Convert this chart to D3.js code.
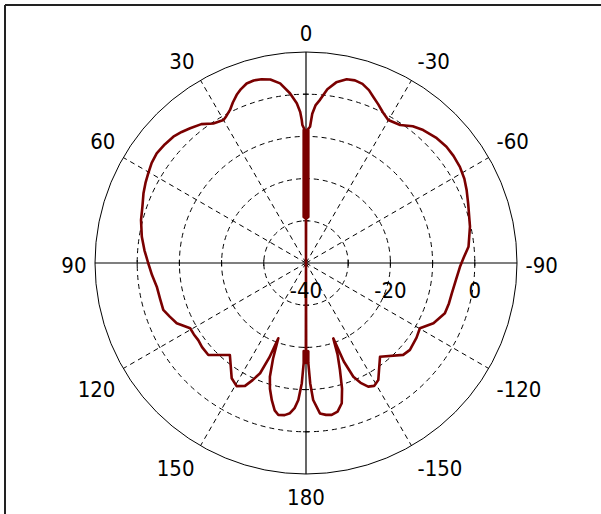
<!DOCTYPE html>
<html>
<head>
<meta charset="utf-8">
<script src="https://cdn.jsdelivr.net/npm/d3@7"></script>
<style>
    html, body { margin: 0; padding: 0; background: #fff; }
    svg { display: block; }
    text { font-family: "DejaVu Sans Condensed", "DejaVu Sans", sans-serif; fill: #000; }
</style>
</head>
<body>
<svg id="polarChart"></svg>
<script>
// angulos em graus (positivo = lado esquerdo) e ganho em dB
const angulosEsq = [0, 0.1, 2.9, 1.0, 0.25, 0.5, 1.5, 1.7, 2.2, 3.3, 5.4, 8.2, 11, 13.6,
    16, 18.3, 20.5, 22.4, 24.5, 26.4, 28.5, 30, 33.6, 37, 40.7, 43.5, 46.4, 50, 53.7, 57, 60.4, 63.5, 66.8,
    71, 75.4, 80.9, 85.5, 90, 94.5, 99, 104, 108.2, 111.5, 115, 119.4, 122.5, 125.6, 129, 133.3, 140.4,
    147.2, 150.6, 153.6, 155.5, 157.4, 158.8, 159.8, 161, 162.4, 164, 166, 168, 169.7, 172, 173.9, 175.5,
    176.8, 178, 178.68, 178.5, 179.5, 179.9, 180];
const ganhoEsq = [-40, -29.5, -29.1, -8.5, -29.1, -8.5, -7.3, -6.1, -4.2, -2.1, 0.4, 3.0, 4.3, 4.8,
    5.0, 4.8, 4.0, 3.1, 1.8, 0.5, -0.4, -0.9, -0.3, 1.2, 2.1, 2.8, 3.4, 3.7, 3.9, 3.6, 3.0, 2.5, 1.9,
    1.0, 0.4, -0.6, -1.6, -2.6, -3.4, -4.2, -4.4, -4.4, -5.3, -6.2, -8.5, -8.5, -8.6, -8.3, -8.2, -11.7,
    -7.5, -6.5, -7.5, -9.5, -11.7, -16, -21, -16, -11.7, -9, -6.5, -4.3, -3.4, -3.6, -4.2, -5.5,
    -7.5, -11.5, -16.3, -19.1, -16.3, -19.1, -40];

const angulosDir = [-180, -179.9, -179.5, -178.5, -178.68, -178, -177, -174.7, -172.5, -170.4, -168,
    -165.7, -164, -162.4, -161, -160.1, -159, -157.4, -155.5, -153.3, -151, -148.3, -141.7, -133.4, -129.9,
    -124, -119.8, -115.3, -109.9, -105.8, -101.8, -96, -91.4, -88, -84.3, -77.5, -70, -65.6, -62, -58, -54,
    -50.4, -46, -41.4, -38, -34.3, -29.9, -27, -24.5, -22, -20, -17.5, -15, -12.5, -9.5, -7, -4.9, -3.5,
    -2.4, -1.7, -0.5, -0.25, -1.0, -2.9, -0.1, 0];
const ganhoDir = [-40, -19.1, -16.3, -19.1, -16.3, -11.5, -7.5, -4.2, -3.7, -3.5, -4.0,
    -5.7, -9.0, -13.4, -17, -21, -15, -10.8, -8.8, -7.2, -6.7, -7.4, -11.7, -8.3, -7.9,
    -8.4, -8.9, -6.6, -5.0, -4.8, -4.7, -4.2, -3.5, -2.6, -1.3, -0.2, 0.9, 1.8, 2.5, 3.0, 3.2,
    3.2, 2.8, 2.0, 1.1, -0.4, -0.9, 0.1, 1.3, 2.5, 3.6, 4.5, 4.8, 4.6, 3.4, 1.5, -1.2, -2.5,
    -4.6, -7.7, -8.5, -29.1, -8.5, -29.1, -29.5, -40];

const angulosLabels = [0, 30, 60, 90, 120, 150, 180, -150, -120, -90, -60, -30];
const aneis = [-30, -20, -10, 0];
const labelsRaio = [-40, -20, 0];

const largura = 601, altura = 514;
const cx = 306, cy = 263;
const raioMax = 211;

const svg = d3.select('#polarChart').attr('width', largura).attr('height', altura);

// moldura (só esquerda e topo)
svg.append('line').attr('x1', 5).attr('y1', 5).attr('x2', largura).attr('y2', 5)
    .attr('stroke', '#222').attr('stroke-width', 2);
svg.append('line').attr('x1', 5).attr('y1', 5).attr('x2', 5).attr('y2', altura)
    .attr('stroke', '#222').attr('stroke-width', 2);

const r = d3.scaleLinear().domain([-40, 10]).range([0, raioMax]);
const g = svg.append('g').attr('transform', `translate(${cx},${cy})`);

// converte angulo (graus, anti-horario a partir do topo) em x,y
const px = (ang, raio) => -raio * Math.sin(ang * Math.PI / 180);
const py = (ang, raio) => -raio * Math.cos(ang * Math.PI / 180);

// circulos tracejados
g.selectAll('circle.anel')
    .data(aneis)
    .enter()
    .append('circle')
    .attr('class', 'anel')
    .attr('r', d => r(d))
    .attr('fill', 'none')
    .attr('stroke', '#000')
    .attr('stroke-width', 1)
    .attr('stroke-dasharray', '5,4');

// raios tracejados a cada 30 graus
const raiosTracejados = d3.range(0, 360, 30).filter(a => a % 90 !== 0);
g.selectAll('line.raio')
    .data(raiosTracejados)
    .enter()
    .append('line')
    .attr('x1', 0).attr('y1', 0)
    .attr('x2', d => px(d, raioMax))
    .attr('y2', d => py(d, raioMax))
    .attr('stroke', '#000')
    .attr('stroke-width', 1)
    .attr('stroke-dasharray', '5,4');

// circulo exterior
g.append('circle').attr('r', r(10)).attr('fill', 'none').attr('stroke', '#000').attr('stroke-width', 1);

// eixos
g.append('line').attr('x1', -raioMax).attr('y1', 0).attr('x2', raioMax).attr('y2', 0)
    .attr('stroke', '#000').attr('stroke-width', 1.2);
g.append('line').attr('x1', 0).attr('y1', -raioMax).attr('x2', 0).attr('y2', raioMax)
    .attr('stroke', '#000').attr('stroke-width', 1.2);

// marcas nos eixos
[0, 90, 180, 270].forEach(a => {
    aneis.forEach(v => {
        const x = px(a, r(v)), y = py(a, r(v));
        const tx = Math.cos(a * Math.PI / 180) * 3, ty = -Math.sin(a * Math.PI / 180) * 3;
        g.append('line')
            .attr('x1', x - tx).attr('y1', y - ty)
            .attr('x2', x + tx).attr('y2', y + ty)
            .attr('stroke', '#000').attr('stroke-width', 1);
    });
});

// curva do diagrama
const pontos = angulosEsq.map((a, i) => [a, ganhoEsq[i]])
    .concat(angulosDir.map((a, i) => [360 + a, ganhoDir[i]]));

const linha = d3.lineRadial()
    .angle(d => -d[0] * Math.PI / 180)
    .radius(d => r(Math.max(d[1], -40)));

g.append('path')
    .datum(pontos)
    .attr('d', linha)
    .attr('fill', 'none')
    .attr('stroke', '#7a0000')
    .attr('stroke-width', 2.6)
    .attr('stroke-linejoin', 'round');

// labels de angulo: encostados ao ponto do raio 216 pelo canto mais proximo
const raioLabel = 216;
const labels = g.selectAll('text.ang')
    .data(angulosLabels)
    .enter()
    .append('text')
    .attr('class', 'ang')
    .attr('text-anchor', 'middle')
    .attr('dominant-baseline', 'central')
    .attr('font-size', 22)
    .text(d => d);

labels.each(function (d) {
    const w = this.getComputedTextLength();
    const sx = -Math.sin(d * Math.PI / 180), sy = -Math.cos(d * Math.PI / 180);
    let x = raioLabel * sx, y = raioLabel * sy;
    if (Math.abs(sx) > 0.01) x += Math.sign(sx) * (w / 2 + 3.5);
    if (sy < -0.01) y -= 14;
    else if (sy > 0.01) y += 18;
    else y += 2;
    d3.select(this).attr('x', x).attr('y', y);
});

// labels de raio
g.selectAll('text.raioLbl')
    .data(labelsRaio)
    .enter()
    .append('text')
    .attr('class', 'raioLbl')
    .attr('x', d => r(d))
    .attr('y', 27)
    .attr('text-anchor', 'middle')
    .attr('dominant-baseline', 'central')
    .attr('font-size', 22)
    .text(d => d);
</script>
</body>
</html>
